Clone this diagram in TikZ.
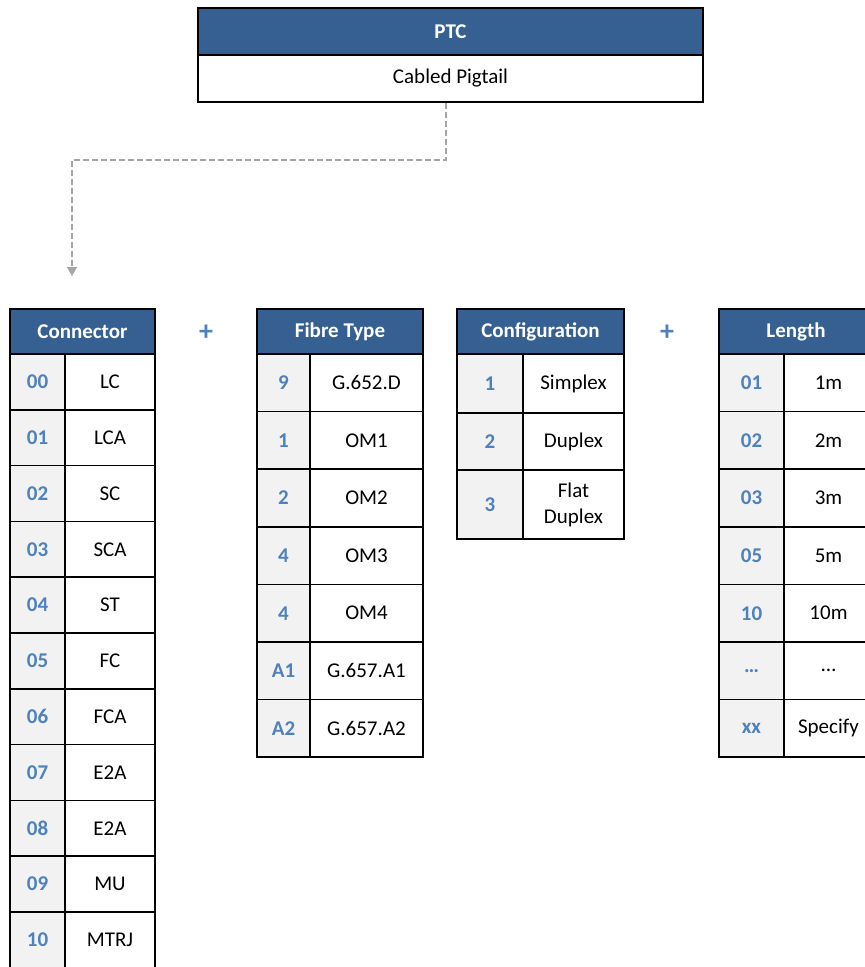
\documentclass[tikz,border=0pt]{standalone}
\usepackage{fontspec}
\setmainfont{Carlito}
\usetikzlibrary{arrows.meta}
\definecolor{hdrblue}{HTML}{366092}
\definecolor{keyblue}{HTML}{4F81BD}
\definecolor{keygrey}{HTML}{F2F2F2}
\definecolor{linkgrey}{HTML}{A6A6A6}

\begin{document}
\begin{tikzpicture}
        [x=1pt,y=-1pt,
         every node/.style={rectangle,draw=black,line width=1.6pt,inner sep=0pt,font=\fontsize{21}{26}\selectfont},
         hdr/.style={fill=hdrblue,text=white,font=\fontsize{21}{26}\selectfont\bfseries,minimum height=45pt},
         keycell/.style={fill=keygrey,text=keyblue,font=\fontsize{21}{26}\selectfont\bfseries},
         valcell/.style={fill=white,align=center},
         plus/.style={draw=none,text=keyblue,font=\fontsize{28}{30}\selectfont\bfseries},
         link/.style={draw=linkgrey,line width=1.6pt,dash pattern=on 6pt off 3pt,-{Triangle[width=10pt,length=9pt]}}]
        \useasboundingbox (0,0) rectangle (865,967);

        % top box
        \node[hdr,minimum width=505pt,minimum height=47pt] (ptchdr) at (450.5,31.5) {PTC};
        \node[valcell,minimum width=505pt,minimum height=47pt] (ptcbody) at (450.5,78.5) {Cabled Pigtail};

        % connector
        \node[hdr,minimum width=145pt] (conhdr) at (82.5,331.5) {Connector};
        \foreach \k/\v [count=\i from 0] in {00/LC,01/LCA,02/SC,03/SCA,04/ST,05/FC,06/FCA,07/E2A,08/E2A,09/MU,10/MTRJ} {
            \node[keycell,minimum width=55pt,minimum height=55.8pt] (conkey\i) at (37.5,{381.9+55.8*\i}) {\k};
            \node[valcell,minimum width=90pt,minimum height=55.8pt] (conval\i) at (110,{381.9+55.8*\i}) {\v};
        }

        % fibre type
        \node[hdr,minimum width=166pt] (fibhdr) at (340,331.5) {Fibre Type};
        \foreach \k/\v [count=\i from 0] in {9/G.652.D,1/OM1,2/OM2,4/OM3,4/OM4,A1/G.657.A1,A2/G.657.A2} {
            \node[keycell,minimum width=53pt,minimum height=57.6pt] (fibkey\i) at (283.5,{382.8+57.6*\i}) {\k};
            \node[valcell,minimum width=113pt,minimum height=57.6pt] (fibval\i) at (366.5,{382.8+57.6*\i}) {\v};
        }

        % configuration
        \node[hdr,minimum width=167pt] (cfghdr) at (540.5,331.5) {Configuration};
        \node[keycell,minimum width=66pt,minimum height=59pt] (cfgkey1) at (490,383.5) {1};
        \node[valcell,minimum width=101pt,minimum height=59pt] (cfgval1) at (573.5,383.5) {Simplex};
        \node[keycell,minimum width=66pt,minimum height=57pt] (cfgkey2) at (490,441.5) {2};
        \node[valcell,minimum width=101pt,minimum height=57pt] (cfgval2) at (573.5,441.5) {Duplex};
        \node[keycell,minimum width=66pt,minimum height=69pt] (cfgkey3) at (490,504.5) {3};
        \node[valcell,minimum width=101pt,minimum height=69pt] (cfgval3) at (573.5,504.5) {Flat\\Duplex};

        % length
        \node[hdr,minimum width=154pt] (lenhdr) at (796,331.5) {Length};
        \foreach \k/\v [count=\i from 0] in {01/1m,02/2m,03/3m,05/5m,10/10m,…/…,xx/Specify} {
            \node[keycell,minimum width=65pt,minimum height=57.6pt] (lenkey\i) at (751.5,{382.8+57.6*\i}) {\k};
            \node[valcell,minimum width=89pt,minimum height=57.6pt] (lenval\i) at (828.5,{382.8+57.6*\i}) {\v};
        }

        \node[plus] (plusa) at (206,333) {+};
        \node[plus] (plusb) at (667,333) {+};

        \coordinate (bend) at (72,160);
        \coordinate (arrowend) at (72,276);
        \draw[link] ([xshift=-4.5pt]ptcbody.south) |- (bend) -- (arrowend);

      \end{tikzpicture}
\end{document}
